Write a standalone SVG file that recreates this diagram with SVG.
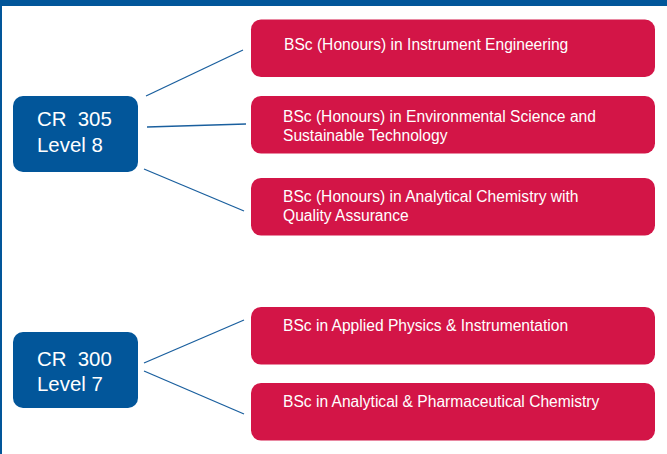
<svg xmlns="http://www.w3.org/2000/svg" width="667" height="454" viewBox="0 0 667 454">
<style>
.lvl{fill:#02569a}
.deg{fill:#d31547}
.lt{font-family:"Liberation Sans",Arial,sans-serif;font-size:20.4px;fill:#fff}
.dt{font-family:"Liberation Sans",Arial,sans-serif;font-size:15.6px;fill:#fff}
.con line{stroke:#1a5f9e;stroke-width:1.3}
</style>
<rect x="0" y="0" width="667" height="454" fill="#fff"/>
<rect x="0" y="0" width="667" height="6" fill="#02569a"/>
<rect x="0" y="0" width="2" height="454" fill="#02569a"/>
<g class="con">
<line x1="146" y1="96" x2="243" y2="50"/>
<line x1="147" y1="127" x2="246" y2="124"/>
<line x1="144" y1="169" x2="244" y2="211"/>
<line x1="144" y1="363" x2="244" y2="320"/>
<line x1="144" y1="371" x2="244" y2="414"/>
</g>
<g id="cr305"><rect class="lvl" x="13" y="96" width="125" height="76" rx="10"/><text class="lt" x="37" y="126" xml:space="preserve">CR  305</text><text class="lt" x="37" y="152">Level 8</text></g>
<g id="cr300"><rect class="lvl" x="13" y="332" width="125" height="76" rx="10"/><text class="lt" x="37" y="366" xml:space="preserve">CR  300</text><text class="lt" x="37" y="391">Level 7</text></g>
<g id="d1"><rect class="deg" x="251" y="19.5" width="404" height="57.5" rx="10"/><text class="dt" x="284" y="50">BSc (Honours) in Instrument Engineering</text></g>
<g id="d2"><rect class="deg" x="251" y="96" width="404" height="57.5" rx="10"/><text class="dt" x="283" y="121.5">BSc (Honours) in Environmental Science and</text><text class="dt" x="283" y="141">Sustainable Technology</text></g>
<g id="d3"><rect class="deg" x="251" y="178" width="404" height="57.5" rx="10"/><text class="dt" x="283" y="202">BSc (Honours) in Analytical Chemistry with</text><text class="dt" x="283" y="221">Quality Assurance</text></g>
<g id="d4"><rect class="deg" x="251" y="307" width="404" height="57.5" rx="10"/><text class="dt" x="283" y="331">BSc in Applied Physics &amp; Instrumentation</text></g>
<g id="d5"><rect class="deg" x="251" y="383" width="404" height="57.5" rx="10"/><text class="dt" x="283" y="407">BSc in Analytical &amp; Pharmaceutical Chemistry</text></g>
</svg>
